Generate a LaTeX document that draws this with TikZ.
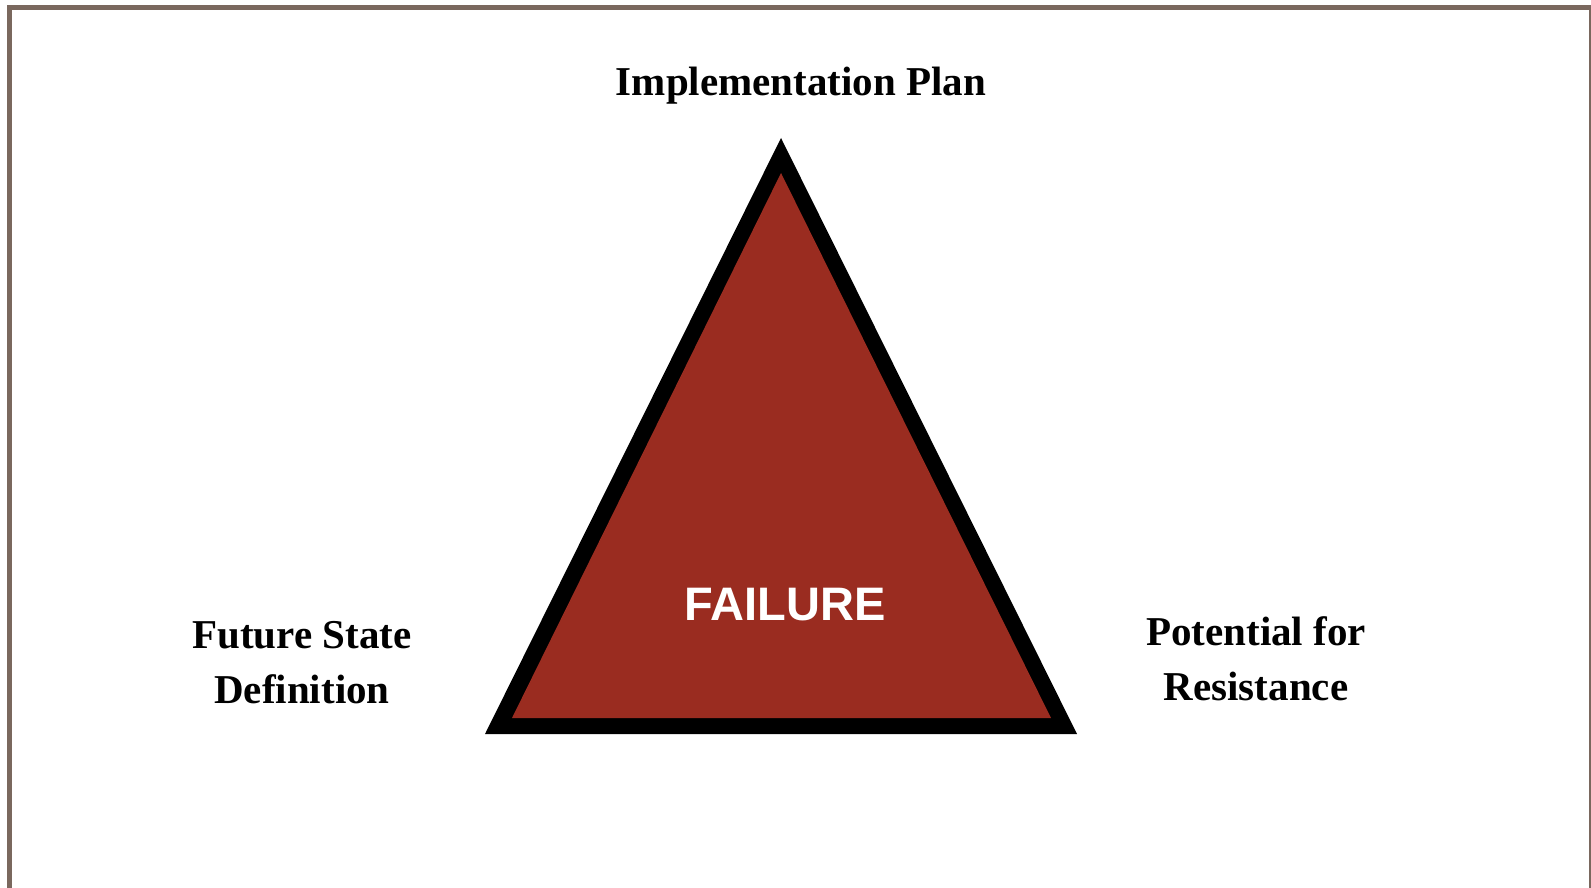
\documentclass[tikz,border=0pt]{standalone}
\usepackage{fontspec}
\setmainfont{Liberation Serif}
\newfontfamily\labelsans{Liberation Sans}
\definecolor{framebrown}{RGB}{122,104,94}
\definecolor{failred}{RGB}{154,44,32}
\begin{document}
\begin{tikzpicture}[x=0.5pt,y=-0.5pt,
  vertexlabel/.style={font=\fontsize{20.5}{27.5}\selectfont\bfseries, align=center, inner sep=0pt, text=black},
  centrelabel/.style={font=\labelsans\fontsize{23.5}{26}\selectfont\bfseries, text=white, inner sep=0pt}]
  \useasboundingbox (0,0) rectangle (1591,888);
  \clip (0,0) rectangle (1591,888);
  % page frame, open at the bottom
  \draw[framebrown, line width=2.5pt] (9.5,900) -- (9.5,7.5) -- (1591.5,7.5) -- (1591.5,900);
  % triangle: black outer band and red core
  \coordinate (apexO) at (781,138);
  \coordinate (leftO) at (485,734);
  \coordinate (rightO) at (1077,734);
  \coordinate (apexI) at (781,173);
  \coordinate (leftI) at (512,718);
  \coordinate (rightI) at (1051,718);
  \fill[black] (apexO) -- (rightO) -- (leftO) -- cycle;
  \fill[failred] (apexI) -- (rightI) -- (leftI) -- cycle;
  % labels
  \node[centrelabel] (fail) at (785,605) {FAILURE};
  \node[vertexlabel] (top) at (801,86) {Implementation Plan};
  \node[vertexlabel] (left) at (302,663) {Future State\\Definition};
  \node[vertexlabel] (right) at (1256,659) {Potential for\\Resistance};
\end{tikzpicture}
\end{document}
